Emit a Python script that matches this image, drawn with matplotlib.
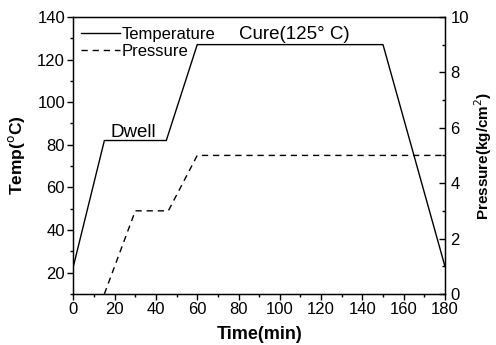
import numpy as np
import matplotlib.pyplot as plt
from matplotlib.ticker import MultipleLocator

plt.rcParams['font.family'] = ['Liberation Sans', 'DejaVu Sans']

# cure cycle profile
temp_time = [0, 15, 45, 60, 150, 180]
temp_vals = [23, 82, 82, 127, 127, 23]
pres_time = [15, 30, 46, 60, 180]
pres_vals = [0, 3, 3, 5, 5]

fig = plt.figure(figsize=(4.96, 3.45), dpi=100)
ax = fig.add_axes([0.148, 0.148, 0.749, 0.803])
ax2 = ax.twinx()

ax.plot(temp_time, temp_vals, color='black', lw=1.0, label='Temperature')
ax2.plot(pres_time, pres_vals, color='black', lw=1.0, ls=(0, (4.5, 3.5)), label='Pressure')

ax.set_xlim(0, 180)
ax.set_ylim(10, 140)
ax2.set_ylim(0, 10)

ax.xaxis.set_major_locator(MultipleLocator(20))
ax.xaxis.set_minor_locator(MultipleLocator(10))
ax.yaxis.set_major_locator(MultipleLocator(20))
ax.yaxis.set_minor_locator(MultipleLocator(10))
ax2.yaxis.set_major_locator(MultipleLocator(2))
ax2.yaxis.set_minor_locator(MultipleLocator(1))

ax.tick_params(which='major', direction='out', length=4, width=1, labelsize=12, pad=2)
ax.tick_params(which='minor', direction='out', length=2.5, width=1)
ax2.tick_params(which='major', direction='in', length=4, width=1, labelsize=12, pad=4)
ax2.tick_params(which='minor', direction='in', length=2.5, width=1)
for s in ax.spines.values():
    s.set_linewidth(1.0)

ax.set_xlabel('Time(min)', fontsize=13, fontweight='bold')
ax.set_ylabel('Temp($^{\\rm o}$C)', fontsize=12.5, fontweight='bold')
ax2.set_ylabel('Pressure(kg/cm$^{\\rm 2}$)', fontsize=11, fontweight='bold')
ax.xaxis.set_label_coords(0.5, -0.115)
ax.yaxis.set_label_coords(-0.125, 0.5)
ax2.yaxis.set_label_coords(1.075, 0.5)

ax.text(18, 83.5, 'Dwell', fontsize=13.5, ha='left', va='baseline')
ax.text(80, 129.5, 'Cure(125° C)', fontsize=13.5, ha='left', va='baseline')

h1, l1 = ax.get_legend_handles_labels()
h2, l2 = ax2.get_legend_handles_labels()
ax.legend(h1 + h2, l1 + l2, loc='upper left', bbox_to_anchor=(0.012, 0.975),
          frameon=False, fontsize=12, handlelength=2.3, handletextpad=0.1,
          labelspacing=0.12, borderaxespad=0.0, borderpad=0.2)

fig.savefig('out.png', dpi=100)
